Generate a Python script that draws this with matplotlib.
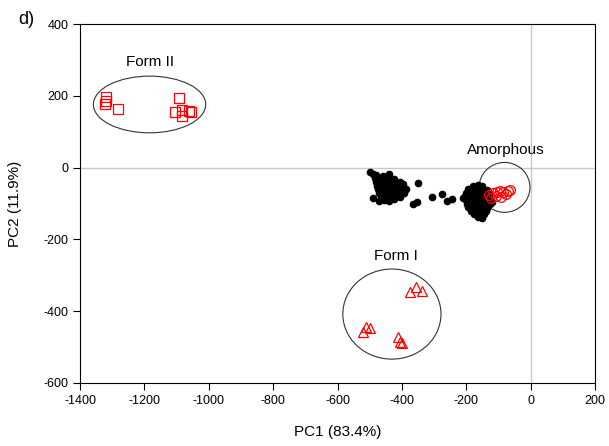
import matplotlib
matplotlib.use("Agg")
import matplotlib.pyplot as plt
from matplotlib.patches import Ellipse

plt.rcParams['font.family'] = ['Liberation Sans', 'DejaVu Sans']
plt.rcParams['axes.unicode_minus'] = False

# Black scores (samples)
blk_x = [-480, -460, -440,
         -485, -470, -455, -440, -425,
         -480, -465, -450, -435, -420, -405,
         -478, -462, -447, -432, -418, -402,
         -475, -460, -445, -430, -415, -400,
         -470, -455, -440, -425, -410,
         -465, -450, -435, -420, -405,
         -455, -440, -425,
         -499, -490, -395, -392, -490, -471, -387,
         -351, -307, -274, -259, -243, -366, -352,
         -180, -165, -150,
         -195, -180, -165, -150, -135,
         -200, -185, -170, -155, -140, -128,
         -205, -190, -175, -160, -145, -130,
         -200, -185, -170, -155, -140, -125,
         -198, -183, -168, -153, -138, -125,
         -195, -180, -165, -150, -135,
         -185, -170, -155, -140,
         -175, -160, -145, -165, -150, -210, -120]
blk_y = [-20, -22, -18,
         -30, -32, -28, -30, -33,
         -40, -42, -38, -40, -43, -40,
         -50, -52, -48, -50, -53, -50,
         -60, -62, -58, -60, -63, -60,
         -70, -72, -68, -70, -73,
         -80, -82, -78, -80, -83,
         -90, -92, -88,
         -12, -18, -45, -70, -85, -93, -59,
         -44, -81, -74, -93, -88, -101, -96,
         -50, -48, -52,
         -60, -58, -62, -60, -63,
         -70, -72, -68, -70, -73, -70,
         -80, -82, -78, -80, -83, -80,
         -90, -92, -88, -90, -93, -90,
         -100, -102, -98, -100, -103, -100,
         -110, -112, -108, -110, -113,
         -120, -122, -118, -120,
         -130, -132, -128, -138, -140, -85, -95]

# Form II (squares)
f2_x = [-1320, -1320, -1322, -1281, -1092, -1105, -1084, -1084, -1060, -1056]
f2_y = [197, 186, 178, 163, 195, 154, 162, 145, 158, 156]

# Form I (triangles)
f1_x = [-375, -356, -338, -520, -512, -499, -411, -406, -401]
f1_y = [-346, -332, -343, -457, -443, -448, -471, -485, -489]

# Amorphous (circles)
am_x = [-128, -116, -106, -95, -85, -69, -64, -123, -109, -93, -78]
am_y = [-76, -70, -67, -65, -67, -65, -63, -84, -78, -81, -74]

fig = plt.figure(figsize=(6.09, 4.46), dpi=100)
ax = fig.add_axes([0.1314, 0.1413, 0.8456, 0.8047])

ax.axhline(0, color='#c8c8c8', lw=1, zorder=0)
ax.axvline(0, color='#c8c8c8', lw=1, zorder=0)

ax.plot(blk_x, blk_y, 'o', color='black', ms=4.5, mec='black', zorder=2)
ax.plot(f2_x, f2_y, 's', mfc='none', mec='red', ms=6.5, mew=0.9, zorder=3)
ax.plot(f1_x, f1_y, '^', mfc='none', mec='red', ms=7, mew=0.9, zorder=3)
ax.plot(am_x, am_y, 'o', mfc='none', mec='red', ms=7, mew=0.9, zorder=3)

for (cx, cy, w, h) in [(-1184, 176, 349, 158), (-431, -408, 305, 251), (-81, -55, 158, 139)]:
    ax.add_patch(Ellipse((cx, cy), w, h, fill=False, ec='#333333', lw=0.8, zorder=1))

ax.text(-1183, 294, 'Form II', ha='center', va='center', fontsize=11)
ax.text(-77, 49, 'Amorphous', ha='center', va='center', fontsize=11)
ax.text(-418, -246, 'Form I', ha='center', va='center', fontsize=11)
fig.text(18/609, 1-20/446, 'd)', ha='left', va='center', fontsize=13)

ax.set_xlim(-1400, 200)
ax.set_ylim(-600, 400)
ax.set_xticks(range(-1400, 201, 200))
ax.set_yticks(range(-600, 401, 200))
ax.tick_params(direction='out', length=5, width=0.8, labelsize=9, top=False, right=False)
ax.set_xlabel('PC1 (83.4%)', fontsize=11, labelpad=13)
ax.set_ylabel('PC2 (11.9%)', fontsize=11, labelpad=15)
for s in ax.spines.values():
    s.set_linewidth(0.8)

fig.savefig('out.png', dpi=100)
